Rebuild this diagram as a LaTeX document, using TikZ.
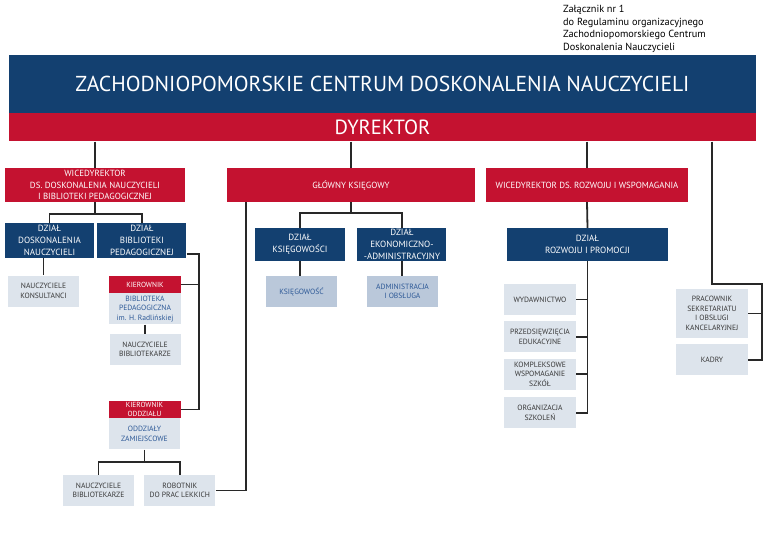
\documentclass[tikz,border=0pt]{standalone}
\usepackage{fontspec}
\setmainfont{PT Sans}
\usetikzlibrary{
    positioning,                      % below=of, right=of
    calc                              % ($(a)+(0,12)$)
}
\definecolor{granat}{RGB}{19,64,112}
\definecolor{czerwien}{RGB}{196,18,48}
\definecolor{szary_jasny}{RGB}{221,228,236}
\definecolor{szary_ciemny}{RGB}{186,200,218}
\definecolor{tekst_szary}{RGB}{55,55,55}
\definecolor{tekst_niebieski}{RGB}{44,88,150}
\definecolor{linia_kolor}{RGB}{40,40,40}
\tikzset{
    pasek/.style={
        rectangle, inner sep=0pt, text=white,
        minimum width=747pt, align=center
    },
    czerwony/.style={
        rectangle, fill=czerwien, text=white,
        minimum height=34pt, align=center, inner sep=1pt,
        font=\fontsize{8.9}{11.6}\selectfont
    },
    granatowy/.style={
        rectangle, fill=granat, text=white,
        minimum width=89pt, minimum height=33pt,
        align=center, inner sep=1pt,
        font=\fontsize{9}{11.7}\selectfont
    },
    komorka/.style={
        rectangle, fill=szary_jasny, text=tekst_szary,
        minimum width=71pt, minimum height=31pt,
        align=center, inner sep=1pt,
        font=\fontsize{7.6}{9.5}\selectfont
    },
    ksieg/.style={
        komorka, fill=szary_ciemny, text=tekst_niebieski
    },
    kierownik/.style={
        rectangle, fill=czerwien, text=white,
        minimum width=72pt, minimum height=17pt,
        align=center, inner sep=0pt,
        font=\fontsize{7.4}{8.6}\selectfont
    },
    polaczenie/.style={
        draw=linia_kolor, line width=1.8pt
    }
}

\begin{document}
\begin{tikzpicture}[x=1pt, y=-1pt]
        \useasboundingbox (0,0) rectangle (768,543);

        \node[anchor=north west, align=left, inner sep=0pt,
              font=\fontsize{10.3}{12.7}\selectfont] (zalacznik) at (563,5)
            {Załącznik nr 1\\do Regulaminu organizacyjnego\\Zachodniopomorskiego Centrum\\Doskonalenia Nauczycieli};

        \node[pasek, fill=granat, minimum height=58pt,
              font=\fontsize{21.6}{24}\selectfont] (centrum) at (382.5,84)
            {ZACHODNIOPOMORSKIE CENTRUM DOSKONALENIA NAUCZYCIELI};
        \node[pasek, fill=czerwien, minimum height=28pt,
              font=\fontsize{20.5}{22}\selectfont, below=0pt of centrum] (dyrektor) {DYREKTOR};

        % --- Wicedyrektorzy i glowny ksiegowy ---
        \node[czerwony, minimum width=180pt] (wiceDN) at (95,185)
            {WICEDYREKTOR\\DS. DOSKONALENIA NAUCZYCIELI\\I BIBLIOTEKI PEDAGOGICZNEJ};
        \node[czerwony, minimum width=248pt] (glowny) at (351,185) {GŁÓWNY KSIĘGOWY};
        \node[czerwony, minimum width=202pt] (wiceRW) at (587,185)
            {WICEDYREKTOR DS. ROZWOJU I WSPOMAGANIA};

        % --- Dzialy ---
        \node[granatowy, minimum height=35pt] (dzDN) at (49.5,240.5)
            {DZIAŁ\\DOSKONALENIA\\NAUCZYCIELI};
        \node[granatowy, minimum height=35pt, right=3pt of dzDN] (dzBP)
            {DZIAŁ\\BIBLIOTEKI\\PEDAGOGICZNEJ};
        \node[granatowy, minimum width=90pt] (dzKS) at (300,244.5) {DZIAŁ\\KSIĘGOWOŚCI};
        \node[granatowy, right=12pt of dzKS] (dzEA)
            {DZIAŁ\\EKONOMICZNO-\\-ADMINISTRACYJNY};
        \node[granatowy, minimum width=161pt] (dzRP) at (587.5,244.5)
            {DZIAŁ\\ROZWOJU I PROMOCJI};

        % --- Komorki pionu doskonalenia i biblioteki ---
        \node[komorka] (konsultanci) at (43.5,291) {NAUCZYCIELE\\KONSULTANCI};
        \node[kierownik] (kierBP) at (145,284.5) {KIEROWNIK};
        \node[komorka, minimum width=72pt, text=tekst_niebieski, below=0pt of kierBP] (bibPed)
            {BIBLIOTEKA\\PEDAGOGICZNA\\im. H. Radlińskiej};
        \node[komorka, below=9pt of bibPed] (biblio1) {NAUCZYCIELE\\BIBLIOTEKARZE};
        \node[kierownik] (kierOdd) at (144.5,409.5) {KIEROWNIK\\ODDZIAŁU};
        \node[komorka, text=tekst_niebieski, below=0pt of kierOdd] (oddzialy)
            {ODDZIAŁY\\ZAMIEJSCOWE};
        \node[komorka] (biblio2) at (98.5,490.5) {NAUCZYCIELE\\BIBLIOTEKARZE};
        \node[komorka, right=10pt of biblio2] (robotnik) {ROBOTNIK\\DO PRAC LEKKICH};

        % --- Komorki ksiegowosci ---
        \node[ksieg] (ksiegowosc) at (301.5,291.5) {KSIĘGOWOŚĆ};
        \node[ksieg] (administracja) at (402.5,291.5) {ADMINISTRACJA\\I OBSŁUGA};

        % --- Komorki pionu rozwoju ---
        \node[komorka, minimum width=72pt] (wydawnictwo) at (540,299.5) {WYDAWNICTWO};
        \node[komorka, minimum width=72pt, below=6pt of wydawnictwo] (przedsiewziecia)
            {PRZEDSIĘWZIĘCIA\\EDUKACYJNE};
        \node[komorka, minimum width=72pt, below=6pt of przedsiewziecia] (kompleksowe)
            {KOMPLEKSOWE\\WSPOMAGANIE\\SZKÓŁ};
        \node[komorka, minimum width=72pt, below=7pt of kompleksowe] (organizacja)
            {ORGANIZACJA\\SZKOLEŃ};

        % --- Komorki podlegle dyrektorowi ---
        \node[komorka, minimum width=72pt, minimum height=49pt] (pracownik) at (712,313.5)
            {PRACOWNIK\\SEKRETARIATU\\I OBSŁUGI\\KANCELARYJNEJ};
        \node[komorka, minimum width=72pt, below=6pt of pracownik] (kadry) {KADRY};

        % --- Polaczenia od dyrektora ---
        \foreach \cel in {wiceDN, glowny, wiceRW}
            \draw[polaczenie] (dyrektor.south -| \cel.north) -- (\cel.north);
        \coordinate (zakretK) at (762,284);
        \draw[polaczenie] (dyrektor.south -| pracownik.north) |- (zakretK) |- (kadry.east);
        \draw[polaczenie] (pracownik.east) -- (pracownik.east -| zakretK);

        % --- Pion doskonalenia i biblioteki ---
        \coordinate (rozgDN) at ($(wiceDN.south)+(0,12)$);
        \draw[polaczenie] (wiceDN.south) -- (rozgDN);
        \draw[polaczenie] (dzDN.north) |- (rozgDN) -| (dzBP.north);
        \draw[polaczenie] (dzDN.south -| konsultanci.north) -- (konsultanci.north);
        \coordinate (pionBP) at (199,254);
        \draw[polaczenie] (dzBP.east |- pionBP) -- (pionBP) |- (kierOdd.east);
        \draw[polaczenie] (kierBP.east) -- (kierBP.east -| pionBP);
        \draw[polaczenie] (bibPed.south) -- (biblio1.north);
        \coordinate (rozgOdd) at ($(oddzialy.south)+(0,12)$);
        \draw[polaczenie] (oddzialy.south) -- (rozgOdd);
        \draw[polaczenie] (biblio2.north) |- (rozgOdd) -| (robotnik.north);
        \draw[polaczenie] (robotnik.east) -| ($(glowny.south west)+(19,0)$);

        % --- Pion ksiegowosci ---
        \coordinate (rozgG) at ($(glowny.south)+(0,11)$);
        \draw[polaczenie] (glowny.south) -- (rozgG);
        \draw[polaczenie] (dzKS.north) |- (rozgG) -| (dzEA.north);
        \draw[polaczenie] (dzKS.south) -- (dzKS.south |- ksiegowosc.north);
        \draw[polaczenie] (dzEA.south) -- (dzEA.south |- administracja.north);

        % --- Pion rozwoju ---
        \draw[polaczenie] (wiceRW.south) -- (dzRP.north);
        \draw[polaczenie] (dzRP.south) |- (organizacja.east);
        \foreach \cel in {wydawnictwo, przedsiewziecia, kompleksowe}
            \draw[polaczenie] (\cel.east) -- (\cel.east -| dzRP.south);

    \end{tikzpicture}
\end{document}
